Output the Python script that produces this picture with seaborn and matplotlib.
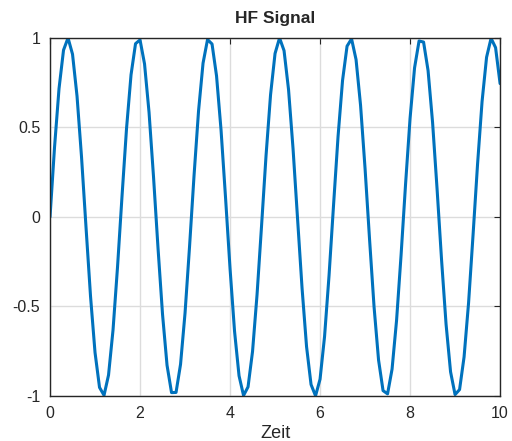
import numpy as np
import pandas as pd
import seaborn as sns
import matplotlib.pyplot as plt

# HF signal samples (step 0.1)
zeit = [round(0.1 * k, 1) for k in range(101)]
signal = [
    0.000, 0.389, 0.717, 0.932, 1.000, 0.909, 0.675, 0.335, -0.058, -0.443,
    -0.757, -0.952, -0.996, -0.883, -0.631, -0.279, 0.117, 0.494, 0.794, 0.968,
    0.989, 0.855, 0.585, 0.223, -0.175, -0.544, -0.828, -0.981, -0.980, -0.823,
    -0.537, -0.166, 0.231, 0.592, 0.859, 0.991, 0.966, 0.788, 0.486, 0.108,
    -0.288, -0.638, -0.887, -0.997, -0.949, -0.751, -0.434, -0.050, 0.343, 0.682,
    0.913, 1.000, 0.929, 0.711, 0.381, -0.009, -0.397, -0.724, -0.936, -0.999,
    -0.906, -0.668, -0.326, 0.067, 0.450, 0.763, 0.954, 0.995, 0.879, 0.624,
    0.271, -0.125, -0.502, -0.799, -0.970, -0.988, -0.850, -0.578, -0.214, 0.183,
    0.551, 0.833, 0.983, 0.977, 0.818, 0.529, 0.157, -0.240, -0.599, -0.865,
    -0.992, -0.964, -0.782, -0.480, -0.099, 0.296, 0.645, 0.892, 0.998, 0.946,
    0.745,
]
x_ticks = [0, 2, 4, 6, 8, 10]
y_ticks = [-1, -0.5, 0, 0.5, 1]
y_labels = ['-1', '-0.5', '0', '0.5', '1']

sns.set_style('white')
plt.rcParams['font.family'] = ['Liberation Sans', 'DejaVu Sans']

df = pd.DataFrame({'Zeit': zeit, 'signal': signal})

fig = plt.figure(figsize=(5.12, 4.41), dpi=100)
ax = fig.add_axes([0.0977, 0.102, 0.879, 0.812])
sns.lineplot(data=df, x='Zeit', y='signal', color='#0072BD', lw=2.2, ax=ax)

ax.set(xlim=(0, 10), ylim=(-1, 1), xticks=x_ticks, yticks=y_ticks)
ax.set_yticklabels(y_labels)
ax.set_xlabel('Zeit', fontsize=13, color='#262626', labelpad=3)
ax.set_ylabel('')
ax.set_title('HF Signal', fontsize=12.5, fontweight='bold', pad=11)
ax.grid(True, color='#dcdcdc', lw=1)
ax.set_axisbelow(True)
ax.tick_params(direction='in', length=4, width=0.8, top=True, right=True,
               labelsize=11.5, colors='#262626', pad=7)
for s in ax.spines.values():
    s.set_color('#262626')
    s.set_linewidth(1.0)

fig.savefig('out.png', dpi=100)
